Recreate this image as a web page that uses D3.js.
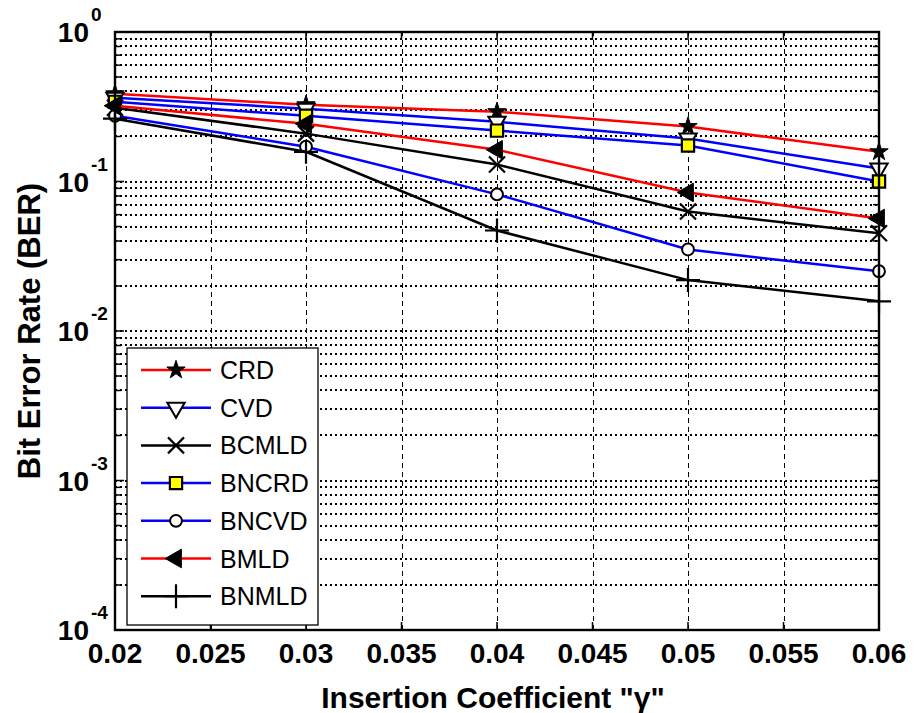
<!DOCTYPE html>
<html>
<head>
<meta charset="utf-8">
<script src="https://cdn.jsdelivr.net/npm/d3@7"></script>
<style>
  body { margin: 0; background: #fff; }
  svg { font-family: "Liberation Sans", Arial, sans-serif; }
</style>
</head>
<body>
<svg id="chart" width="915" height="713"></svg>
<script>
// data
const gammas = [0.02, 0.03, 0.04, 0.05, 0.06];
const xTicks = [0.02, 0.025, 0.03, 0.035, 0.04, 0.045, 0.05, 0.055, 0.06];
const xTickLabels = ['0.02', '0.025', '0.03', '0.035', '0.04', '0.045', '0.05', '0.055', '0.06'];
const decades = [1e-4, 1e-3, 1e-2, 1e-1, 1];
const decadeExps = ['-4', '-3', '-2', '-1', '0'];

const seriesNames = ['CRD', 'CVD', 'BCMLD', 'BNCRD', 'BNCVD', 'BMLD', 'BNMLD'];
const crd   = [0.386, 0.326, 0.293, 0.233, 0.158];
const cvd   = [0.363, 0.307, 0.251, 0.194, 0.122];
const bcmld = [0.311, 0.209, 0.130, 0.063, 0.045];
const bncrd = [0.341, 0.275, 0.219, 0.174, 0.100];
const bncvd = [0.275, 0.171, 0.082, 0.0351, 0.0251];
const bmld  = [0.321, 0.243, 0.163, 0.0845, 0.0566];
const bnmld = [0.263, 0.158, 0.047, 0.0219, 0.0158];

const seriesValues = [crd, cvd, bcmld, bncrd, bncvd, bmld, bnmld];
const seriesColors = ['#ff0000', '#0000ff', '#000000', '#0000ff', '#0000ff', '#ff0000', '#000000'];
const seriesMarkers = ['star', 'triDown', 'times', 'square', 'circle', 'triLeft', 'plus'];

const margin = { top: 32, right: 36, bottom: 83, left: 115 };
const width = 915, height = 713;

const svg = d3.select('#chart');

const x = d3.scaleLinear()
  .domain([0.02, 0.06])
  .range([margin.left, width - margin.right]);

const y = d3.scaleLog()
  .domain([1e-4, 1])
  .range([height - margin.bottom, margin.top]);

const x0 = x.range()[0], x1 = x.range()[1];
const y0 = y.range()[0], y1 = y.range()[1];

// grid
const grid = svg.append('g').attr('shape-rendering', 'crispEdges');
const minorVals = y.ticks().filter(v => v > 1e-4 && v < 1);

grid.selectAll('.hgrid')
  .data(minorVals)
  .join('line')
  .attr('x1', x0).attr('x2', x1)
  .attr('y1', d => Math.round(y(d))).attr('y2', d => Math.round(y(d)))
  .attr('stroke', '#000')
  .attr('stroke-width', 2)
  .attr('stroke-dasharray', '2,3');

grid.selectAll('.vgrid')
  .data(xTicks.slice(1, -1))
  .join('line')
  .attr('x1', d => Math.round(x(d))).attr('x2', d => Math.round(x(d)))
  .attr('y1', y0).attr('y2', y1)
  .attr('stroke', '#000')
  .attr('stroke-width', 1)
  .attr('stroke-dasharray', '5,4');

// ticks (inward, on all four sides)
const ticks = svg.append('g').attr('stroke', '#000').attr('stroke-width', 1.5);
const allY = y.ticks().filter(v => v > 1e-4 && v < 1);
const tickLen = v => decades.includes(v) ? 9 : 6;

ticks.selectAll('.tl').data(allY).join('line')
  .attr('x1', x0).attr('x2', d => x0 + tickLen(d))
  .attr('y1', d => y(d)).attr('y2', d => y(d));
ticks.selectAll('.tr').data(allY).join('line')
  .attr('x1', x1).attr('x2', d => x1 - tickLen(d))
  .attr('y1', d => y(d)).attr('y2', d => y(d));
ticks.selectAll('.tb').data(xTicks).join('line')
  .attr('x1', d => x(d)).attr('x2', d => x(d))
  .attr('y1', y0).attr('y2', y0 - 8);
ticks.selectAll('.tt').data(xTicks).join('line')
  .attr('x1', d => x(d)).attr('x2', d => x(d))
  .attr('y1', y1).attr('y2', y1 + 8);

// markers
function marker(g, type, cx, cy) {
  const t = `translate(${cx},${cy})`;
  if (type === 'star') {
    g.append('path').attr('transform', t)
      .attr('d', d3.symbol(d3.symbolStar, 105)())
      .attr('fill', '#000').attr('stroke', '#000').attr('stroke-width', 1);
  } else if (type === 'triDown') {
    g.append('path').attr('transform', t + ' rotate(180)')
      .attr('d', d3.symbol(d3.symbolTriangle, 130)())
      .attr('fill', '#fff').attr('stroke', '#000').attr('stroke-width', 2);
  } else if (type === 'times') {
    g.append('path').attr('transform', t)
      .attr('d', 'M-8,-8L8,8M-8,8L8,-8')
      .attr('fill', 'none').attr('stroke', '#000').attr('stroke-width', 2.2);
  } else if (type === 'square') {
    g.append('path').attr('transform', t)
      .attr('d', d3.symbol(d3.symbolSquare, 150)())
      .attr('fill', '#ffff00').attr('stroke', '#000').attr('stroke-width', 2.2);
  } else if (type === 'circle') {
    g.append('path').attr('transform', t)
      .attr('d', d3.symbol(d3.symbolCircle, 110)())
      .attr('fill', '#fff').attr('stroke', '#000').attr('stroke-width', 2);
  } else if (type === 'triLeft') {
    g.append('path').attr('transform', t + ' rotate(-90)')
      .attr('d', d3.symbol(d3.symbolTriangle, 150)())
      .attr('fill', '#000').attr('stroke', '#000').attr('stroke-width', 1);
  } else if (type === 'plus') {
    g.append('path').attr('transform', t)
      .attr('d', 'M0,-12L0,12M-12,0L12,0')
      .attr('fill', 'none').attr('stroke', '#000').attr('stroke-width', 2.2);
  }
}

// series
const line = d3.line()
  .x((d, i) => x(gammas[i]))
  .y(d => y(d));

seriesValues.forEach((vals, s) => {
  const g = svg.append('g');
  g.append('path')
    .attr('d', line(vals))
    .attr('fill', 'none')
    .attr('stroke', seriesColors[s])
    .attr('stroke-width', 2.5);
  vals.forEach((v, i) => marker(g, seriesMarkers[s], x(gammas[i]), y(v)));
});

// frame
svg.append('rect')
  .attr('x', x0).attr('y', y1)
  .attr('width', x1 - x0).attr('height', y0 - y1)
  .attr('fill', 'none').attr('stroke', '#000').attr('stroke-width', 2.4);

// x tick labels
svg.append('g').selectAll('text')
  .data(xTicks)
  .join('text')
  .attr('x', d => x(d))
  .attr('y', 663)
  .attr('text-anchor', 'middle')
  .attr('font-size', 28)
  .attr('font-weight', 'bold')
  .text((d, i) => xTickLabels[i]);

// y tick labels 10^k
const yl = svg.append('g').selectAll('g')
  .data(decades)
  .join('g');
yl.append('text')
  .attr('x', 89)
  .attr('y', d => y(d) + 10)
  .attr('text-anchor', 'end')
  .attr('font-size', 28)
  .attr('font-weight', 'bold')
  .text('10');
yl.append('text')
  .attr('x', 91)
  .attr('y', d => y(d) - 11)
  .attr('font-size', 19)
  .attr('font-weight', 'bold')
  .text((d, i) => decadeExps[i]);

// axis titles
svg.append('text')
  .attr('x', (x0 + x1) / 2 - 4)
  .attr('y', 708)
  .attr('text-anchor', 'middle')
  .attr('font-size', 30)
  .attr('font-weight', 'bold')
  .text('Insertion Coefficient "\u03b3"');

svg.append('text')
  .attr('transform', `translate(40,${(y0 + y1) / 2}) rotate(-90)`)
  .attr('text-anchor', 'middle')
  .attr('font-size', 31)
  .attr('font-weight', 'bold')
  .text('Bit Error Rate (BER)');

// legend
const lg = svg.append('g');
lg.append('rect')
  .attr('x', 127).attr('y', 348)
  .attr('width', 191).attr('height', 277)
  .attr('fill', '#fff').attr('stroke', '#000').attr('stroke-width', 1.3);

seriesNames.forEach((name, s) => {
  const cy = 370 + s * 37.7;
  lg.append('line')
    .attr('x1', 141).attr('x2', 211)
    .attr('y1', cy).attr('y2', cy)
    .attr('stroke', seriesColors[s]).attr('stroke-width', 2.5);
  marker(lg, seriesMarkers[s], 176, cy);
  lg.append('text')
    .attr('x', 220).attr('y', cy + 9)
    .attr('font-size', 25)
    .text(name);
});
</script>
</body>
</html>
